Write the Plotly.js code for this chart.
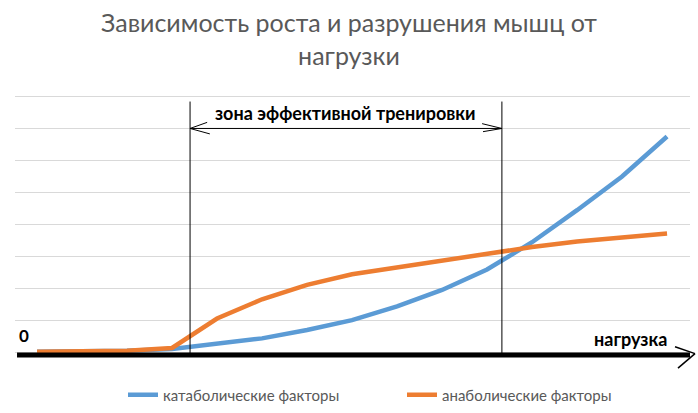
<!DOCTYPE html>
<html>
<head>
<meta charset="utf-8">
<script src="https://cdn.plot.ly/plotly-3.0.1.min.js"></script>
<style>
  html, body { margin: 0; padding: 0; background: #fff; }
  #chart { width: 698px; height: 413px; }
</style>
</head>
<body>
<div id="chart"></div>
<script>
// load steps along the x axis (unlabelled categories)
var steps = [0, 1, 2, 3, 4, 5, 6, 7, 8, 9, 10, 11, 12, 13, 14];

// catabolic factors (blue)
var catabolic = [0.03, 0.04, 0.06, 0.12, 0.27, 0.45, 0.71, 1.02, 1.45, 1.96, 2.6, 3.45, 4.45, 5.5, 6.75];
// anabolic factors (orange)
var anabolic = [0.03, 0.04, 0.06, 0.15, 1.07, 1.67, 2.12, 2.45, 2.67, 2.87, 3.08, 3.3, 3.47, 3.6, 3.72];

var seriesNames = ['катаболические факторы', 'анаболические факторы'];
var seriesColors = ['#5B9BD5', '#ED7D31'];

// borders of the effective training zone, in step units
var zoneStart = 3.4;
var zoneEnd = 10.33;
var zoneArrowLevel = 7;

function createLine(name, values, color) {
  return {
    name: name,
    x: steps,
    y: values,
    type: 'scatter',
    mode: 'lines',
    line: { color: color, width: 4.5 },
    hoverinfo: 'skip'
  };
}

var data = [
  createLine(seriesNames[0], catabolic, seriesColors[0]),
  createLine(seriesNames[1], anabolic, seriesColors[1])
];

var thin = { color: '#000', width: 1 };

var shapes = [
  // zone borders
  { type: 'line', xref: 'x', yref: 'y', x0: zoneStart, x1: zoneStart, y0: -0.05, y1: 7.84, line: thin },
  { type: 'line', xref: 'x', yref: 'y', x0: zoneEnd, x1: zoneEnd, y0: -0.05, y1: 7.84, line: thin },
  // zone arrow
  { type: 'line', xref: 'x', yref: 'y', x0: zoneStart, x1: zoneEnd, y0: zoneArrowLevel, y1: zoneArrowLevel, line: thin },
  { type: 'line', xref: 'x', yref: 'y', x0: zoneStart, x1: zoneStart + 0.38, y0: zoneArrowLevel, y1: zoneArrowLevel + 0.19, line: thin },
  { type: 'line', xref: 'x', yref: 'y', x0: zoneStart, x1: zoneStart + 0.44, y0: zoneArrowLevel, y1: zoneArrowLevel - 0.17, line: thin },
  { type: 'line', xref: 'x', yref: 'y', x0: zoneEnd, x1: zoneEnd - 0.44, y0: zoneArrowLevel, y1: zoneArrowLevel + 0.15, line: thin },
  { type: 'line', xref: 'x', yref: 'y', x0: zoneEnd, x1: zoneEnd - 0.42, y0: zoneArrowLevel, y1: zoneArrowLevel - 0.1, line: thin },
  // thick load axis with arrow
  { type: 'line', xref: 'paper', yref: 'paper', x0: 0.003, x1: 1.0, y0: 0.0034, y1: 0.0034, line: { color: '#000', width: 5 } },
  { type: 'line', xref: 'paper', yref: 'paper', x0: 0.9778, x1: 1.0074, y0: 0.0346, y1: 0.009, line: { color: '#000', width: 1.5 } },
  { type: 'line', xref: 'paper', yref: 'paper', x0: 0.9822, x1: 1.0074, y0: -0.0456, y1: 0.009, line: { color: '#000', width: 1.5 } }
];

var boldFont = { family: 'Lato, "Open Sans", sans-serif', size: 17, color: '#000', weight: 'bold' };

var annotations = [
  { text: '<b>зона эффективной тренировки</b>', xref: 'paper', yref: 'paper', x: (345 - 15) / 675, y: (355.9 - 113) / 265.6,
    showarrow: false, xanchor: 'center', yanchor: 'middle', font: { family: boldFont.family, size: 18, color: '#000' } },
  { text: '<b>0</b>', xref: 'paper', yref: 'paper', x: (23.5 - 15) / 675, y: (355.9 - 335.5) / 265.6,
    showarrow: false, xanchor: 'center', yanchor: 'middle', font: boldFont },
  { text: '<b>нагрузка</b>', xref: 'paper', yref: 'paper', x: (630 - 15) / 675, y: (355.9 - 339) / 265.6,
    showarrow: false, xanchor: 'center', yanchor: 'middle', font: { family: boldFont.family, size: 18, color: '#000' } }
];

var layout = {
  width: 698,
  height: 413,
  margin: { l: 15, r: 8, t: 90, b: 57 },
  paper_bgcolor: '#fff',
  plot_bgcolor: '#fff',
  title: {
    text: 'Зависимость роста и разрушения мышц от<br>нагрузки',
    font: { family: 'Lato, "Open Sans", sans-serif', size: 25, color: '#595959' },
    x: 0.5,
    xanchor: 'center',
    y: 1 - 32 / 413,
    yanchor: 'top',
    yref: 'container'
  },
  xaxis: {
    range: [-0.49, 14.51],
    showgrid: false,
    zeroline: false,
    showticklabels: false,
    ticks: '',
    showline: false,
    fixedrange: true
  },
  yaxis: {
    range: [-0.1, 8.2],
    dtick: 1,
    showgrid: true,
    gridcolor: '#d9d9d9',
    gridwidth: 1.3,
    zeroline: false,
    showticklabels: false,
    ticks: '',
    showline: false,
    fixedrange: true
  },
  showlegend: true,
  legend: {
    orientation: 'h',
    x: (123 - 15) / 675,
    xanchor: 'left',
    yref: 'container',
    y: 1 - 395 / 413,
    yanchor: 'middle',
    entrywidth: 234,
    font: { family: 'Lato, "Open Sans", sans-serif', size: 15, color: '#595959' },
    bgcolor: 'rgba(0,0,0,0)'
  },
  shapes: shapes,
  annotations: annotations
};

Plotly.newPlot('chart', data, layout, { displayModeBar: false, staticPlot: true });
</script>
</body>
</html>
